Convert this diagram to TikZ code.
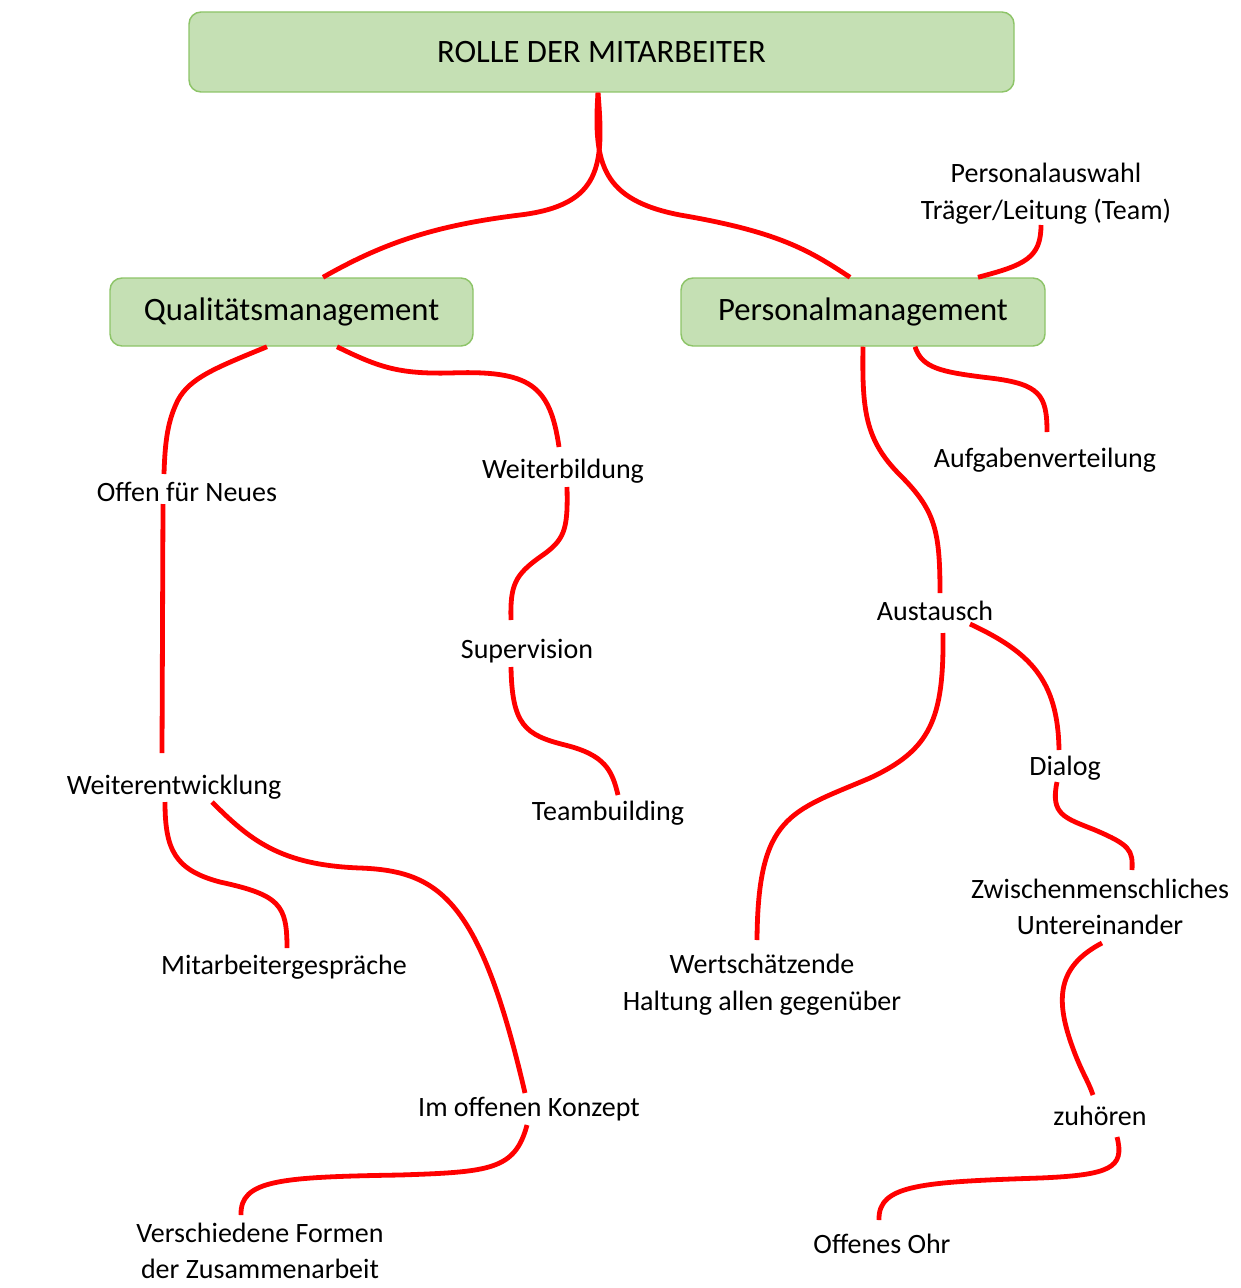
\documentclass[tikz,border=0pt]{standalone}
\usepackage{fontspec}
\setmainfont{Carlito}
\usetikzlibrary{calc}

\tikzset{every picture/.style={line width=0.75pt}}
\tikzset{
  mainbox/.style={draw={rgb, 255:red, 141; green, 196; blue, 104}, line width=1.1pt, fill={rgb, 255:red, 197; green, 224; blue, 180}, rounded corners=9pt, inner sep=0pt, font=\fontsize{24.5}{29}\selectfont},
  lbl/.style={inner sep=0pt, align=center, font=\fontsize{21}{27.5}\selectfont},
  branch/.style={draw={rgb, 255:red, 255; green, 0; blue, 0}, line width=3.6pt}
}

\begin{document}
\begin{tikzpicture}[x=0.75pt,y=0.75pt,yscale=-1,xscale=1]
\useasboundingbox (0,0) rectangle (1240,1288);

%Shape: Rounded Rectangle
\node [mainbox, minimum width=825*0.75pt, minimum height=80*0.75pt] (title) at (601.5,52) {ROLLE DER MITARBEITER};
%Shape: Rounded Rectangle
\node [mainbox, minimum width=363*0.75pt, minimum height=68*0.75pt] (qm) at (291.5,312) {Qualitätsmanagement};
%Shape: Rounded Rectangle
\node [mainbox, minimum width=364*0.75pt, minimum height=68*0.75pt] (pm) at (863,312) {Personalmanagement};

% Text Node
\node [lbl] (auswahl) at (1046,194) {Personalauswahl\\Träger/Leitung (Team)};
% Text Node
\node [lbl, anchor=base] (aufgaben) at (1045,467) {Aufgabenverteilung};
% Text Node
\node [lbl, anchor=base] (offen) at (187,501) {Offen für Neues};
% Text Node
\node [lbl, anchor=base] (weiterb) at (563,478) {Weiterbildung};
% Text Node
\node [lbl, anchor=base] (superv) at (527,658) {Supervision};
% Text Node
\node [lbl, anchor=base] (austausch) at (935,620) {Austausch};
% Text Node
\node [lbl, anchor=base] (weiterent) at (174,794) {Weiterentwicklung};
% Text Node
\node [lbl, anchor=base] (teamb) at (608,820) {Teambuilding};
% Text Node
\node [lbl, anchor=base] (dialog) at (1065,775) {Dialog};
% Text Node
\node [lbl] (zwischen) at (1100,907) {Zwischenmenschliches\\Untereinander};
% Text Node
\node [lbl, anchor=base] (mitarb) at (284,974) {Mitarbeitergespräche};
% Text Node
\node [lbl] (wert) at (762,985) {Wertschätzende\\Haltung allen gegenüber};
% Text Node
\node [lbl, anchor=base] (konzept) at (529,1116) {Im offenen Konzept};
% Text Node
\node [lbl, anchor=base] (zuhoeren) at (1100,1125) {zuhören};
% Text Node
\node [lbl] (verschied) at (260,1251) {Verschiedene Formen\\der Zusammenarbeit};
% Text Node
\node [lbl, anchor=base] (ohr) at (882,1253) {Offenes Ohr};

%Curve Lines
\draw [branch] ($(title.south)+(-3.5,0)$) .. controls (604,165) and (602,205) .. (520,215) .. controls (430,226) and (380,245) .. ($(qm.north)+(31.5,0)$);
%Curve Lines
\draw [branch] ($(title.south)+(-3.5,0)$) .. controls (593,165) and (603,200) .. (680,215) .. controls (780,232) and (810,251) .. ($(pm.north)+(-13,0)$);
%Curve Lines
\draw [branch] ($(pm.north)+(115,0)$) .. controls (1025,265) and (1041,258) .. ($(auswahl)+(-5,31)$);
%Curve Lines
\draw [branch] ($(pm.south)+(52,0)$) .. controls (922,368) and (940,372) .. (990,378) .. controls (1040,384) and (1047,395) .. ($(aufgaben.base)+(2,-35)$);
%Curve Lines
\draw [branch] (pm.south) .. controls (862,410) and (865,440) .. (900,475) .. controls (935,510) and (940,530) .. ($(austausch.base)+(5,-27)$);
%Curve Lines
\draw [branch] ($(austausch.base)+(8,13)$) .. controls (944,720) and (930,750) .. (870,778) .. controls (790,812) and (758,815) .. ($(wert)+(-5,-45)$);
%Curve Lines
\draw [branch] ($(austausch.base)+(35,4)$) .. controls (1030,652) and (1058,680) .. ($(dialog.base)+(-6,-25)$);
%Curve Lines
\draw [branch] ($(dialog.base)+(-8,7)$) .. controls (1050,815) and (1065,818) .. (1095,830) .. controls (1130,845) and (1133,850) .. ($(zwischen)+(32,-37)$);
%Curve Lines
\draw [branch] ($(zwischen)+(2,36)$) .. controls (1060,965) and (1055,995) .. (1070,1040) .. controls (1080,1070) and (1088,1080) .. ($(zuhoeren.base)+(-7,-30)$);
%Curve Lines
\draw [branch] ($(zuhoeren.base)+(17,12)$) .. controls (1125,1168) and (1110,1175) .. (1040,1178) .. controls (920,1182) and (878,1185) .. ($(ohr.base)+(-3,-33)$);
%Curve Lines
\draw [branch] ($(qm.south)+(-24.5,0)$) .. controls (215,368) and (190,378) .. (178,400) .. controls (168,420) and (165,440) .. ($(offen.base)+(-23,-27)$);
%Straight Lines
\draw [branch] ($(offen.base)+(-24,3)$) -- ($(weiterent.base)+(-12,-41)$);
%Curve Lines
\draw [branch] ($(qm.south)+(45.5,0)$) .. controls (380,368) and (400,374) .. (450,373) .. controls (530,370) and (550,385) .. ($(weiterb.base)+(-4,-31)$);
%Curve Lines
\draw [branch] ($(weiterb.base)+(4,9)$) .. controls (568,530) and (565,540) .. (540,557) .. controls (515,575) and (510,585) .. ($(superv.base)+(-16,-38)$);
%Curve Lines
\draw [branch] ($(superv.base)+(-16,9)$) .. controls (512,725) and (525,735) .. (565,745) .. controls (605,755) and (612,770) .. ($(teamb.base)+(10,-25)$);
%Curve Lines
\draw [branch] ($(weiterent.base)+(-9,8)$) .. controls (165,850) and (175,870) .. (220,882) .. controls (280,895) and (287,905) .. ($(mitarb.base)+(3,-26)$);
%Curve Lines
\draw [branch] ($(weiterent.base)+(38,8)$) .. controls (250,840) and (280,865) .. (360,868) .. controls (440,871) and (480,900) .. ($(konzept.base)+(-4,-23)$);
%Curve Lines
\draw [branch] ($(konzept.base)+(-2,9)$) .. controls (515,1170) and (490,1172) .. (400,1175) .. controls (280,1177) and (240,1180) .. ($(verschied)+(-19,-36)$);

\end{tikzpicture}
\end{document}
